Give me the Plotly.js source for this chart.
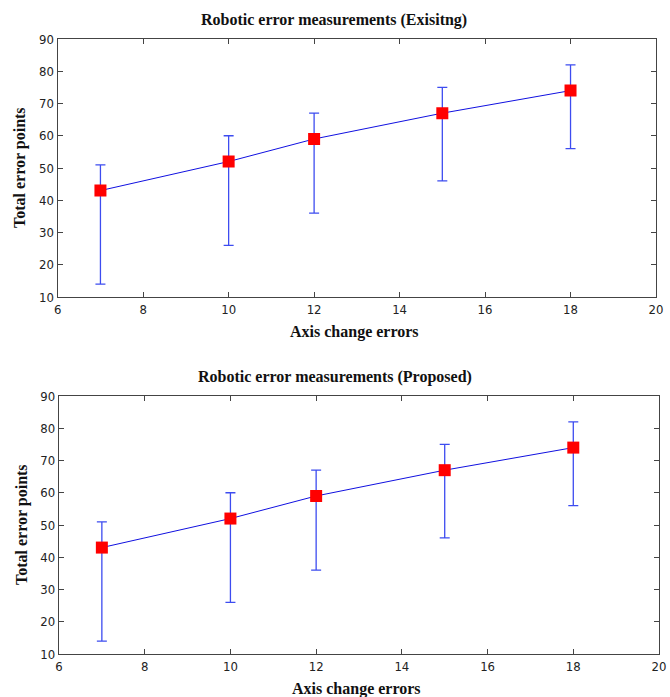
<!DOCTYPE html>
<html>
<head>
<meta charset="utf-8">
<script src="https://cdn.plot.ly/plotly-3.0.1.min.js"></script>
<style>html,body{margin:0;padding:0;background:#fff;}#chart{width:670px;height:697px;}</style>
</head>
<body>
<div id="chart"></div>
<script>
// Data
const axisErrors = [7, 10, 12, 15, 18];
const existingTotal = [43, 52, 59, 67, 74];
const existingUpper = [51, 60, 67, 75, 82];
const existingLower = [14, 26, 36, 46, 56];
const proposedTotal = [43, 52, 59, 67, 74];
const proposedUpper = [51, 60, 67, 75, 82];
const proposedLower = [14, 26, 36, 46, 56];
const titles = ["Robotic error measurements (Exisitng)", "Robotic error measurements (Proposed)"];
const xTitle = "Axis change errors";
const yTitle = "Total error points";
const xTicks = [6, 8, 10, 12, 14, 16, 18, 20];
const yTicks = [10, 20, 30, 40, 50, 60, 70, 80, 90];

const W = 670, H = 697;
const px = v => v / W;
const py = v => 1 - v / H;

function trace(y, up, lo, xa, ya) {
  return {
    type: 'scatter', mode: 'lines+markers',
    x: axisErrors, y: y, xaxis: xa, yaxis: ya,
    line: {color: '#1010e0', width: 1},
    marker: {symbol: 'square', color: '#ff0000', size: 12, line: {width: 0}},
    error_y: {
      type: 'data', symmetric: false,
      array: up.map((u, i) => u - y[i]),
      arrayminus: lo.map((l, i) => y[i] - l),
      color: '#3d4cf0', thickness: 1.3, width: 5
    },
    showlegend: false, hoverinfo: 'skip'
  };
}

const tickFont = {family: '"Liberation Sans Narrow", "DejaVu Sans Condensed", "Arial Narrow", sans-serif', size: 13, color: '#222'};
function xaxisDef(dom, anchor) {
  return {domain: dom, anchor: anchor, range: [6, 20], tickvals: xTicks, ticktext: xTicks.map(String),
    showline: true, linecolor: '#444', linewidth: 1.2, mirror: 'ticks', ticks: 'inside', ticklen: 5,
    tickcolor: '#444', showgrid: false, zeroline: false, tickfont: tickFont, fixedrange: true,
    ticklabeloverflow: 'allow'};
}
function yaxisDef(dom, anchor) {
  return {domain: dom, anchor: anchor, range: [10, 90], tickvals: yTicks, ticktext: yTicks.map(String),
    showline: true, linecolor: '#444', linewidth: 1.2, mirror: 'ticks', ticks: 'inside', ticklen: 5,
    tickcolor: '#444', showgrid: false, zeroline: false, tickfont: tickFont, fixedrange: true,
    ticklabeloverflow: 'allow'};
}

const serifBold = {family: '"Liberation Serif", "Times New Roman", serif', size: 16, color: '#111', weight: 'bold'};
const serifTitle = {family: '"Liberation Serif", "Times New Roman", serif', size: 16, color: '#111', weight: 'bold'};

function ann(text, x, y, font, angle) {
  return {text: text, xref: 'paper', yref: 'paper', x: x, y: y, xanchor: 'center', yanchor: 'middle',
    showarrow: false, font: font, textangle: angle || 0};
}

const layout = {
  width: W, height: H,
  margin: {l: 0, r: 0, t: 0, b: 0},
  paper_bgcolor: '#fff', plot_bgcolor: '#fff',
  xaxis: xaxisDef([px(57.7), px(656)], 'y'),
  yaxis: yaxisDef([py(297), py(39)], 'x'),
  xaxis2: xaxisDef([px(59), px(659)], 'y2'),
  yaxis2: yaxisDef([py(654), py(396)], 'x2'),
  annotations: [
    ann(titles[0], px(334), py(20), serifTitle),
    ann(titles[1], px(335), py(377), serifTitle),
    ann(xTitle, px(354), py(332), serifBold),
    ann(xTitle, px(356), py(689), serifBold),
    ann(yTitle, px(20), py(168), serifBold, -90),
    ann(yTitle, px(22), py(525), serifBold, -90)
  ]
};

Plotly.newPlot('chart', [
  trace(existingTotal, existingUpper, existingLower, 'x', 'y'),
  trace(proposedTotal, proposedUpper, proposedLower, 'x2', 'y2')
], layout, {staticPlot: true, displayModeBar: false});
</script>
</body>
</html>
